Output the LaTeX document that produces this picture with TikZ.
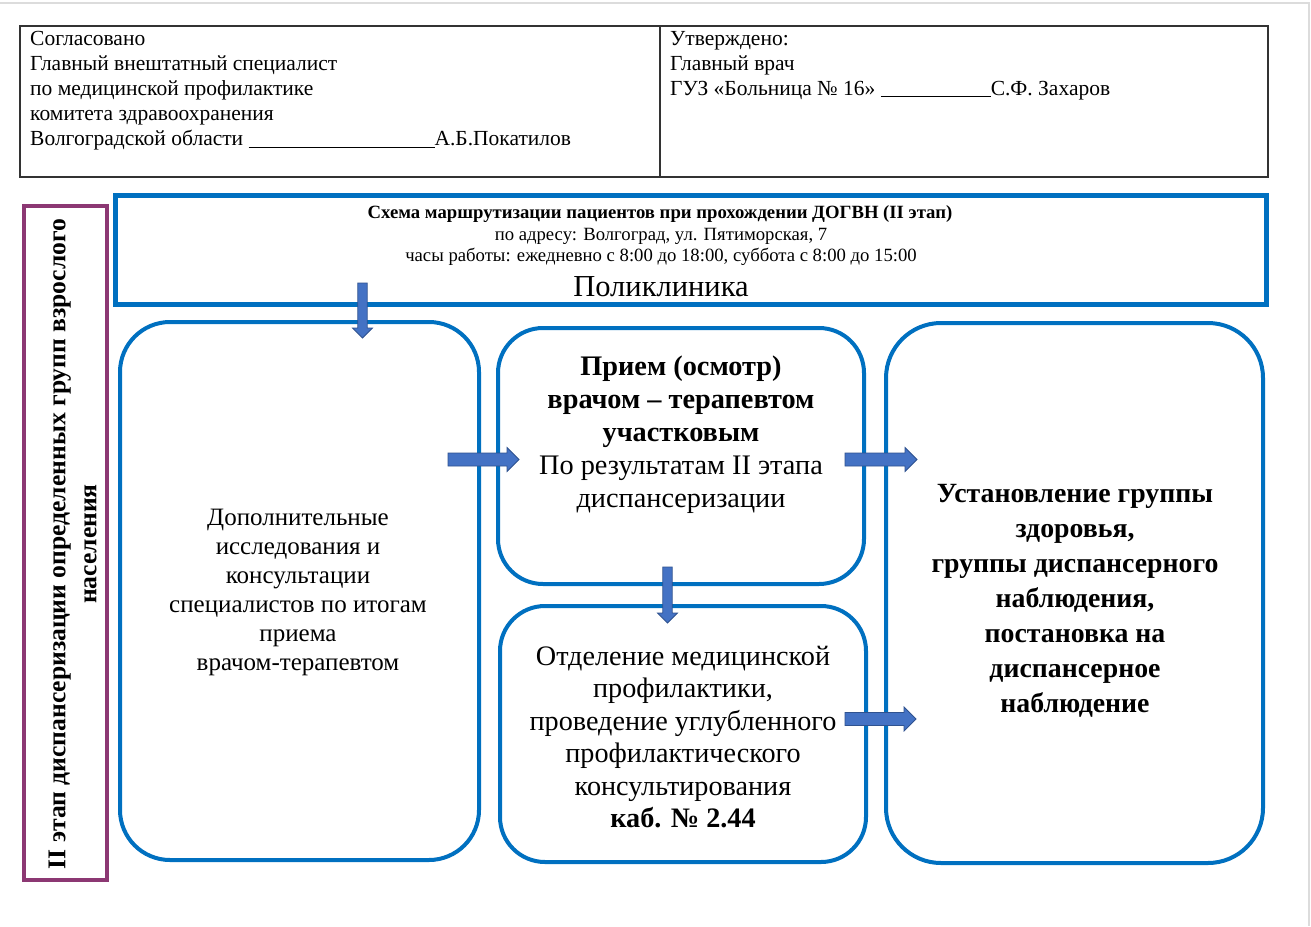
\documentclass[tikz,border=0pt]{standalone}
\usepackage{fontspec}
\setmainfont{Liberation Serif}
\usetikzlibrary{calc}
\definecolor{wblue}{RGB}{0,112,192}
\definecolor{abfill}{RGB}{68,114,196}
\definecolor{abline}{RGB}{47,82,143}
\definecolor{wpurple}{RGB}{140,56,115}
\definecolor{pgline}{RGB}{220,220,220}
\newcommand\fs[2]{\fontsize{#1pt}{#2pt}\selectfont}
\newcommand\harrow[2]{\filldraw[barr] ($(#1)+(0,-6.5)$) -- ($(#2)+(-12,-6.5)$) -- ($(#2)+(-12,-12)$) -- (#2) -- ($(#2)+(-12,12)$) -- ($(#2)+(-12,6.5)$) -- ($(#1)+(0,6.5)$) -- cycle;}
\newcommand\varrow[2]{\filldraw[barr] ($(#1)+(-4.7,0)$) -- ($(#2)+(-4.7,-10)$) -- ($(#2)+(-10,-10)$) -- (#2) -- ($(#2)+(10,-10)$) -- ($(#2)+(4.7,-10)$) -- ($(#1)+(4.7,0)$) -- cycle;}
\begin{document}
\begin{tikzpicture}[x=1pt,y=-1pt,
  rbox/.style={draw=wblue, line width=4pt, rounded corners=50pt, inner sep=0pt},
  tbox/.style={draw=wblue, line width=5pt, inner sep=0pt},
  pbox/.style={draw=wpurple, line width=4.5pt, inner sep=0pt},
  hdr/.style={draw=black!80, line width=1.1pt, inner sep=0pt},
  barr/.style={fill=abfill, draw=abline, line width=0.8pt},
  txt/.style={inner sep=0pt, align=center},
  ltxt/.style={inner sep=0pt, align=left, anchor=north west, font=\fs{21.5}{25}}]
\useasboundingbox (0,0) rectangle (1311,926);
\fill[white] (0,0) rectangle (1311,926);
% page edge
\draw[pgline, line width=1.2pt] (0,3) -- (1309,3) -- (1309,926);
% header table
\node[hdr, minimum width=1248pt, minimum height=151pt] (hdr) at (644,101.5) {};
\draw[black!80, line width=1.1pt] (hdr.north -| 660,0) coordinate (dv1) -- (hdr.south -| 660,0) coordinate (dv2);
\node[ltxt] (agr) at (30,31) {Согласовано\\Главный внештатный специалист\\по медицинской профилактике\\комитета здравоохранения\\Волгоградской области \rule[-2pt]{186pt}{0.9pt}А.Б.Покатилов};
\node[ltxt] (apr) at (670,31) {Утверждено:\\Главный врач\\ГУЗ «Больница № 16» \rule[-2pt]{110pt}{0.9pt}С.Ф. Захаров};
% title box
\node[tbox, minimum width=1151pt, minimum height=109pt] (T) at (690.5,249.5) {};
\node[txt, font=\fs{18.7}{21.5}] (t1) at (660,214) {\textbf{Схема маршрутизации пациентов при прохождении ДОГВН (II этап)}};
\node[txt, font=\fs{18.7}{21.5}] (t2) at (661,236) {по адресу: Волгоград, ул. Пятиморская, 7};
\node[txt, font=\fs{18.7}{21.5}] (t3) at (661,257) {часы работы: ежедневно с 8:00 до 18:00, суббота с 8:00 до 15:00};
\node[txt, font=\fs{30.5}{33}] (t4) at (661,287) {Поликлиника};
% purple side box
\node[pbox, minimum width=83pt, minimum height=674pt] (P) at (65.5,543) {};
\node[txt, rotate=90, font=\bfseries\fs{25.6}{31}] (ptxt) at (72.5,544) {II этап диспансеризации определенных групп взрослого\\населения};
% boxes
\node[rbox, minimum width=359pt, minimum height=538pt] (A) at (299.5,591) {};
\node[rbox, minimum width=366pt, minimum height=256pt, rounded corners=45pt] (B) at (681,456) {};
\node[rbox, minimum width=366pt, minimum height=256pt, rounded corners=45pt] (C) at (683,734) {};
\node[rbox, minimum width=377pt, minimum height=540pt, rounded corners=55pt] (D) at (1074.5,593) {};
\node[txt, font=\fs{25}{29}] (Atx) at (298,592) {Дополнительные\\исследования и\\консультации\\специалистов по итогам\\приема\\врачом-терапевтом};
\node[txt, font=\fs{28.3}{33}] (Btx) at (681,435) {\textbf{Прием (осмотр)}\\\textbf{врачом – терапевтом}\\\textbf{участковым}\\По результатам II этапа\\диспансеризации};
\node[txt, font=\fs{28.2}{32.5}] (Ctx) at (683,737) {Отделение медицинской\\профилактики,\\проведение углубленного\\профилактического\\консультирования\\\textbf{каб. № 2.44}};
\node[txt, font=\bfseries\fs{27.8}{35}] (Dtx) at (1075,601) {Установление группы\\здоровья,\\группы диспансерного\\наблюдения,\\постановка на\\диспансерное\\наблюдение};
% arrow coordinates
\coordinate (a1s) at (362.5,283);
\coordinate (a1e) at (362.5,338);
\coordinate (a2s) at (448,459.5);
\coordinate (a2e) at (519,459.5);
\coordinate (a3s) at (845,459.5);
\coordinate (a3e) at (917,459.5);
\coordinate (a4s) at (667.5,567);
\coordinate (a4e) at (667.5,623);
\coordinate (a5s) at (845,719);
\coordinate (a5e) at (916,719);
\varrow{a1s}{a1e}
\harrow{a2s}{a2e}
\harrow{a3s}{a3e}
\varrow{a4s}{a4e}
\harrow{a5s}{a5e}
\end{tikzpicture}
\end{document}
